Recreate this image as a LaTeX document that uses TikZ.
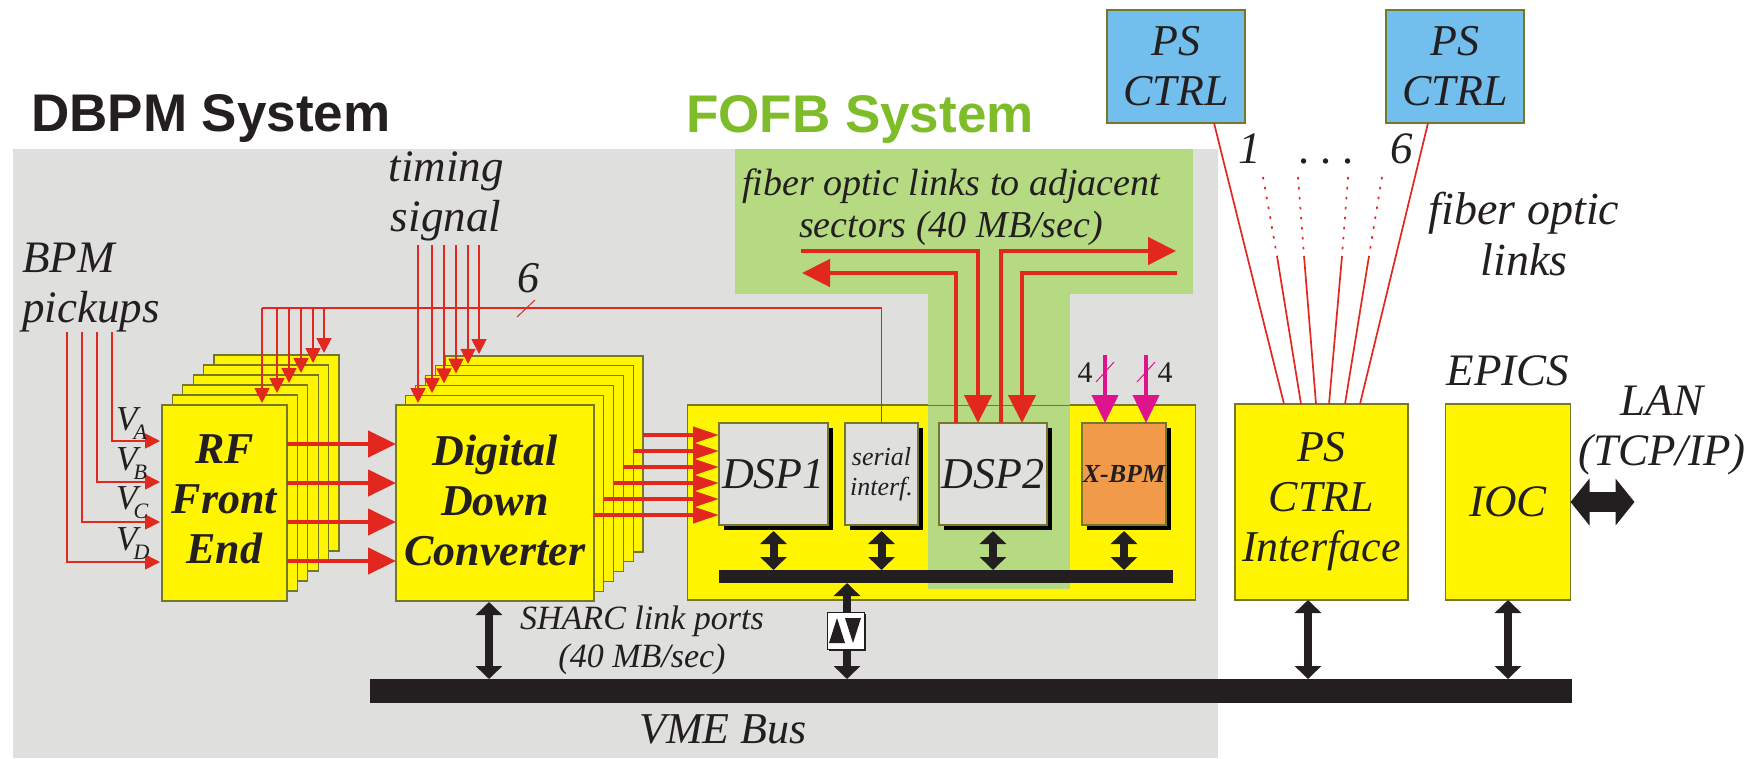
\documentclass[tikz,border=0pt]{standalone}
\usepackage{fontspec}
\setmainfont{Liberation Serif}
\newfontfamily\headfont{Liberation Sans}
\usetikzlibrary{arrows.meta, shadows}
\definecolor{mPanel}{HTML}{DFDFDD}
\definecolor{mGreen}{HTML}{B6DA82}
\definecolor{mHead}{HTML}{7FBC2A}
\definecolor{mYellow}{HTML}{FFF500}
\definecolor{mEdge}{HTML}{77772A}
\definecolor{mRed}{HTML}{E2271F}
\definecolor{mPink}{HTML}{DF148C}
\definecolor{mOrange}{HTML}{F09A4A}
\definecolor{mBlue}{HTML}{72BFEE}
\definecolor{mInk}{HTML}{231F20}
\newcommand{\vsub}[1]{V\kern-4pt\smash{\raisebox{-9pt}{\fontsize{22}{22}\selectfont #1}}}

\begin{document}
\begin{tikzpicture}[x=1pt, y=-1pt,
  dims/.style 2 args={minimum width=#1pt, minimum height=#2pt},
  blk/.style={draw=mEdge, line width=1.2pt, fill=mYellow, inner sep=0pt, outer sep=0pt, align=center, text=mInk},
  chip/.style={blk, fill=mPanel, drop shadow={shadow xshift=5pt, shadow yshift=-5pt, fill=black, opacity=1}},
  bold/.style={font=\bfseries\itshape\fontsize{44}{50}\selectfont},
  ital/.style={font=\itshape\fontsize{#1}{\numexpr#1*111/100\relax}\selectfont, text=mInk, align=center, inner sep=0pt},
  ital/.default=45,
  head/.style={font=\headfont\bfseries\fontsize{53}{60}\selectfont, anchor=base west, inner sep=0pt},
  bar/.style={fill=mInk, inner sep=0pt, outer sep=0pt},
  sig/.style={mRed, line width=1.7pt},
  tip/.style={sig, -{Triangle[length=15pt, width=15pt]}, shorten >=2pt},
  fat/.style={mRed, line width=4.4pt, -{Triangle[length=28pt, width=26pt]}},
  mid/.style={mRed, line width=4pt, -{Triangle[length=26pt, width=16pt]}},
  link/.style={mRed, line width=4.6pt},
  linktip/.style={link, -{Triangle[length=28pt, width=27pt]}},
  pink/.style={mPink, line width=4pt, -{Triangle[length=28pt, width=26pt]}},
  tick/.style={mPink, line width=1pt},
  both/.style={mInk, line width=8pt, {Triangle[length=13pt, width=26pt]}-{Triangle[length=13pt, width=26pt]}},
]
  \useasboundingbox (0,0) rectangle (1755,758);
  \fill[mPanel] (13,149) rectangle (1218,758);
  \fill[mGreen] (735,149) rectangle (1193,294);

  \node[head, text=mInk] (dbpmtitle) at (31,131) {DBPM System};
  \node[head, text=mHead] (fofbtitle) at (686,132) {FOFB System};

  % RF and down converter stacks
  \foreach \i in {5,...,0}
    \node[blk, dims={125}{196}] (rf\i) at (224.5+\i*10.4, 503-\i*10) {};
  \node[bold, align=center, text=mInk, text depth=8pt] (rflabel) at (rf0) {RF\\Front\\End};
  \foreach \i in {5,...,0}
    \node[blk, dims={198}{196}] (ddc\i) at (495+\i*9.8, 503-\i*9.8) {};
  \node[bold, align=center, text=mInk, text depth=6pt] (ddclabel) at (ddc0) {Digital\\Down\\Converter};

  % DSP board
  \node[blk, dims={508}{195}] (board) at (941.5,502.5) {};
  \fill[mGreen] (928,294) rectangle (1070,589);
  \draw[mEdge, line width=.8pt] (928,405) -- (1070,405);
  \node[chip, dims={109}{102}, font=\itshape\fontsize{44}{50}\selectfont] (dspone) at (773.5,474) {DSP1};
  \node[chip, dims={73}{102}, font=\itshape\fontsize{26}{30}\selectfont] (serial) at (881.5,474) {serial\\interf.};
  \node[chip, dims={108}{102}, font=\itshape\fontsize{44}{50}\selectfont] (dsptwo) at (993,474) {DSP2};
  \node[chip, fill=mOrange, dims={84}{102}, font=\bfseries\itshape\fontsize{26}{30}\selectfont] (xbpm) at (1124,474) {X-BPM};
  \node[bar, dims={454}{13}] (dspbus) at (946,576.5) {};
  \node[bar, dims={1202}{24}] (vmebus) at (971,691) {};

  % PS controllers, interface, IOC
  \node[blk, fill=mBlue, dims={138}{113}, font=\itshape\fontsize{44}{50}\selectfont] (psa) at (1176,66.5) {PS\\CTRL};
  \node[blk, fill=mBlue, dims={138}{113}, font=\itshape\fontsize{44}{50}\selectfont] (psb) at (1455,66.5) {PS\\CTRL};
  \node[blk, dims={173}{196}, font=\itshape\fontsize{44}{50}\selectfont] (psif) at (1321.5,502) {PS\\CTRL\\Interface};
  \node[blk, dims={125}{196}, font=\itshape\fontsize{45}{50}\selectfont] (ioc) at (1508,502) {IOC};

  % pickups and timing
  \foreach \x/\y in {112/441, 97/482, 82/522, 67/562}
    \draw[tip] (\x,332) |- (rf0.west |- 0,\y);
  \foreach \x/\i in {418/0, 432/1, 444/2, 456/3, 468/4, 479/5}
    \draw[tip] (\x,245) -- (\x,0 |- ddc\i.north);
  \draw[sig] (serial.north) |- (262,308);
  \foreach \x/\i in {262/0, 277/1, 289/2, 301/3, 313/4, 324/5}
    \draw[tip] (\x,308) -- (\x,0 |- rf\i.north);
  \draw[sig, line width=1pt] (517,317) -- (535,300);

  % data paths
  \foreach \y in {444,483,522,561}
    \draw[fat] (rf0.east |- 0,\y) -- (ddc0.west |- 0,\y);
  \foreach \i/\y in {5/435, 4/451, 3/467, 2/483, 1/499, 0/515}
    \draw[mid] (ddc\i.east |- 0,\y) -- (dspone.west |- 0,\y);
  \draw[linktip] (801,251) -| (978,0 |- dsptwo.north);
  \draw[linktip] (956,0 |- dsptwo.north) |- (802,273);
  \draw[linktip] (1001,0 |- dsptwo.north) |- (1176,251);
  \draw[linktip] (1177,273) -| (1022,0 |- dsptwo.north);
  \foreach \x in {1105,1146}
    \draw[pink] (\x,355) -- (\x,0 |- xbpm.north);
  \draw[tick] (1096,382) -- (1114,362);
  \draw[tick] (1137,382) -- (1155,362);

  % fiber links to the PS controllers
  \draw[sig] (1214,0 |- psa.south) -- (1284,0 |- psif.north);
  \draw[sig] (1428,0 |- psb.south) -- (1360,0 |- psif.north);
  \foreach \t/\m/\b in {1263/1277/1301, 1298/1304/1316, 1348/1342/1329, 1382/1369/1345} {
    \draw[sig, dash pattern=on 2.5pt off 7.5pt] (\t,177) -- (\m,256);
    \draw[sig] (\m,256) -- (\b,0 |- psif.north);
  }

  % bus connections
  \foreach \n in {dspone,serial,dsptwo,xbpm}
    \draw[both] ([yshift=-6pt]\n.south) -- (\n.south |- dspbus.north);
  \draw[both] (489,602) -- (489,0 |- vmebus.north);
  \draw[both] (847,0 |- dspbus.south) -- (847,0 |- vmebus.north);
  \draw[both] (psif.south -| 1308,0) -- (1308,0 |- vmebus.north);
  \draw[both] (ioc.south) -- (ioc.south |- vmebus.north);
  \draw[mInk, line width=20pt, {Triangle[length=19pt, width=46pt]}-{Triangle[length=19pt, width=46pt]}] (ioc.east) -- +(64,0);

  \node[draw=mInk, line width=1pt, fill=white, dims={37}{37}, inner sep=0pt,
        drop shadow={shadow xshift=2pt, shadow yshift=-2pt, fill=mInk, opacity=1}] (driver) at (845.5,630.5) {};
  \fill[mInk] (driver.center) ++(-8.5,-12.5) -- ++(-8,25) -- ++(16,0) -- cycle;
  \fill[mInk] (driver.center) ++(7.5,12.5) -- ++(-8,-25) -- ++(16,0) -- cycle;

  % labels
  \node[ital, anchor=base] (timing) at (446,231) {timing\\signal};
  \node[ital, anchor=base west, align=left] (pickups) at (22,322) {BPM\\pickups};
  \node[ital=35, anchor=base west] (va) at (116,430) {\vsub{A}};
  \node[ital=35, anchor=base west] (vb) at (116,470) {\vsub{B}};
  \node[ital=35, anchor=base west] (vc) at (116,509) {\vsub{C}};
  \node[ital=35, anchor=base west] (vd) at (116,550) {\vsub{D}};
  \node[ital=44, anchor=base] (six) at (528,292) {6};
  \node[ital=38, anchor=base] (fiberlinks) at (951,237) {fiber optic links to adjacent\\sectors (40 MB/sec)};
  \node[ital=34, anchor=base] (sharc) at (642,667) {SHARC link ports\\(40 MB/sec)};
  \node[ital=44, anchor=base] (vme) at (723,743) {VME Bus};
  \node[ital=46, anchor=base] (pslinks) at (1524,275) {fiber optic\\links};
  \node[ital=45, anchor=base] (one) at (1250,163) {1};
  \node[ital=45, anchor=base] (dots) at (1327,163) {.\hspace{11pt}.\hspace{11pt}.};
  \node[ital=45, anchor=base] (sixb) at (1402,163) {6};
  \node[ital=45, anchor=base] (epics) at (1508,385) {EPICS};
  \node[ital=45, anchor=base] (lan) at (1662,465) {LAN\\(TCP/IP)};
  \node[font=\fontsize{30}{30}\selectfont, text=mInk, inner sep=0pt, anchor=base] (foura) at (1085,382) {4};
  \node[font=\fontsize{30}{30}\selectfont, text=mInk, inner sep=0pt, anchor=base] (fourb) at (1165,382) {4};
\end{tikzpicture}
\end{document}
